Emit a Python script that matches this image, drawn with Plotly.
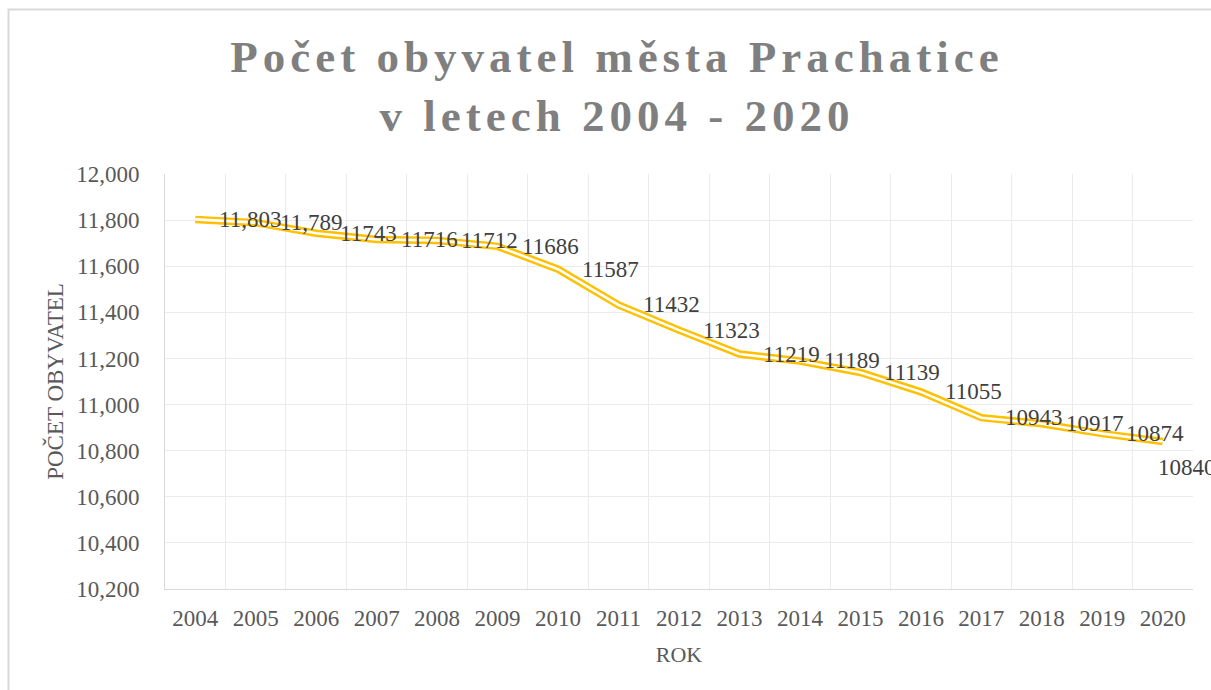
import plotly.graph_objects as go

# ---- data ----
years = [str(y) for y in range(2004, 2021)]
population = [11803, 11789, 11743, 11716, 11712, 11686, 11587, 11432, 11323,
              11219, 11189, 11139, 11055, 10943, 10917, 10874, 10840]
comma_labels = [True, True] + [False] * 15
y_ticks = list(range(10200, 12001, 200))

title_lines = ["Počet obyvatel města Prachatice", "v letech 2004 - 2020"]
x_title = "ROK"
y_title = "POČET OBYVATEL"

FONT = "Liberation Serif, Times New Roman, serif"

fig = go.Figure()
# compound (double) line: gold outer stroke with white core
fig.add_trace(go.Scatter(x=years, y=population, mode="lines",
                         line=dict(color="#FFC000", width=7.5),
                         showlegend=False, hoverinfo="skip"))
fig.add_trace(go.Scatter(x=years, y=population, mode="lines",
                         line=dict(color="#FFFFFF", width=2.6),
                         showlegend=False))

labels = [f"{v:,}" if c else str(v) for v, c in zip(population, comma_labels)]
for i, (v, t) in enumerate(zip(population, labels)):
    last = i == len(population) - 1
    # x given as category index on the category axis
    fig.add_annotation(x=i, y=v, text=t, showarrow=False,
                       xanchor="left", yanchor="middle",
                       xshift=-7 if last else 22, yshift=-26 if last else 0,
                       font=dict(family=FONT, size=23, color="#404040"))

W, H = 1211, 690
ml, mr, mt, mb = 165, 18, 174, 101
pw, ph = W - ml - mr, H - mt - mb

fig.add_shape(type="rect", xref="paper", yref="paper",
              x0=(8.5 - ml) / pw, x1=1.3, y0=-0.6, y1=(H - mb - 9.5) / ph,
              line=dict(color="#d9d9d9", width=2), layer="below")

fig.update_layout(
    width=W, height=H,
    margin=dict(l=ml, r=mr, t=mt, b=mb, pad=0),
    paper_bgcolor="white", plot_bgcolor="white",
    showlegend=False,
    title=dict(text="<br>".join(title_lines),
               font=dict(family=FONT, size=45, color="#7f7f7f", weight="bold"),
               x=617 / W, xanchor="center", xref="container",
               y=1 - 72 / H, yanchor="top", yref="container"),
    xaxis=dict(type="category", range=[-0.5, len(years) - 0.5],
               tickson="boundaries", showgrid=True,
               gridcolor="#ebebeb", gridwidth=1, showline=True,
               linecolor="#d9d9d9", linewidth=1, ticks="",
               ticklabelstandoff=8,
               tickfont=dict(family=FONT, size=23, color="#595959"),
               title=dict(text=x_title, standoff=17,
                          font=dict(family=FONT, size=22, color="#595959"))),
    yaxis=dict(range=[10200, 12000], tickvals=y_ticks, tickformat=",",
               showgrid=True, gridcolor="#ebebeb", gridwidth=1,
               showline=True, linecolor="#d9d9d9", linewidth=1,
               zeroline=False, ticks="", ticklabelstandoff=20,
               tickfont=dict(family=FONT, size=23, color="#595959"),
               title=dict(text=y_title, standoff=6,
                          font=dict(family=FONT, size=23, color="#595959"))),
)

post = """
document.body.style.margin = '0';
var gd = document.getElementById('{plot_id}');
function ls(){ gd.querySelectorAll('.gtitle').forEach(function(t){ t.style.letterSpacing = '5px'; }); }
ls();
if (gd.on) { gd.on('plotly_afterplot', ls); }
"""

fig.write_html("out.html", post_script=post, config={"displayModeBar": False})
